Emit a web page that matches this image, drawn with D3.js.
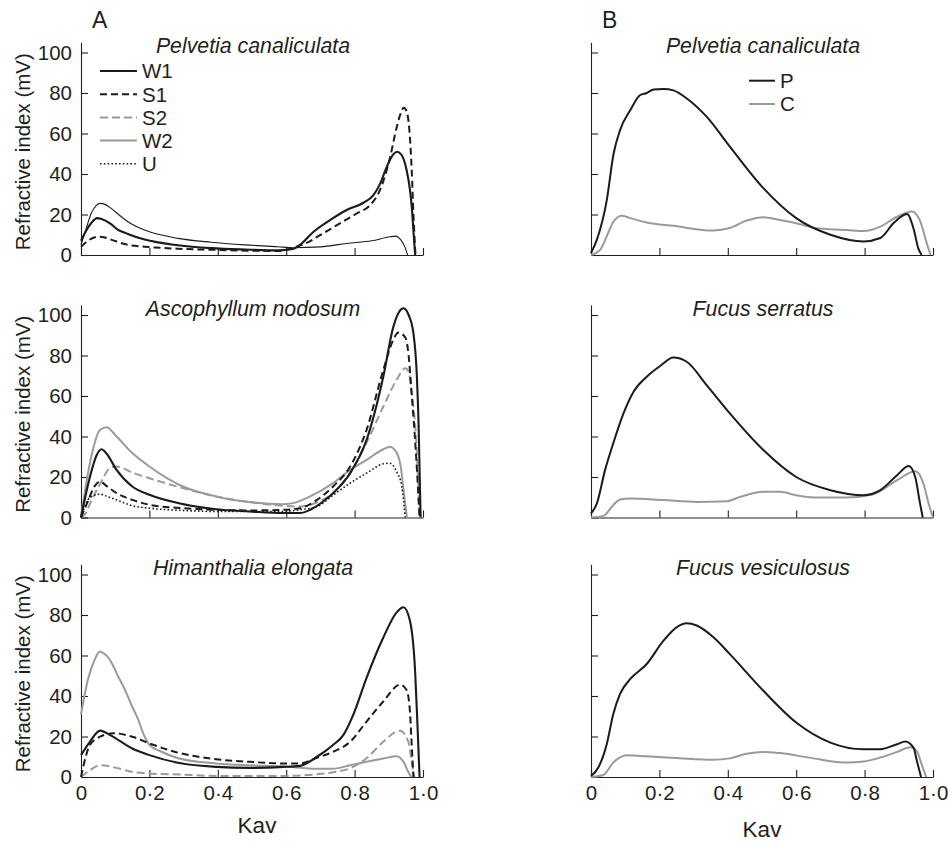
<!DOCTYPE html>
<html>
<head>
<meta charset="utf-8">
<script src="https://cdn.jsdelivr.net/npm/d3@7"></script>
<style>
  html, body { margin: 0; padding: 0; background: #fff; }
  svg { display: block; }
  text { font-family: "Liberation Sans", Arial, Helvetica, sans-serif; fill: #231f20; }
</style>
</head>
<body>
<svg id="chart" width="948" height="841"></svg>
<script>
// ---- Axis ticks and labels ----
const yTicks = [0, 20, 40, 60, 80, 100];
const kavTicks = [0, 0.2, 0.4, 0.6, 0.8, 1.0];
const kavTickLabels = ["0", "0·2", "0·4", "0·6", "0·8", "1·0"];

// ---- A: Pelvetia canaliculata, [Kav, refractive index (mV)] ----
const pelvetiaW1 = [[0,7],[0.015,12],[0.03,15.8],[0.047,18.2],[0.06,17.8],[0.088,15.2],[0.105,12.8],[0.137,10.4],[0.186,7.6],[0.284,4.8],[0.38,3.4],[0.48,2.7],[0.576,2.3],[0.62,3],[0.64,5],[0.68,11.5],[0.728,17.2],[0.777,22.2],[0.826,25.8],[0.855,29.6],[0.874,35],[0.894,43.5],[0.913,49.7],[0.925,51],[0.937,49.5],[0.952,42],[0.962,32],[0.967,24],[0.972,12],[0.977,0]];
const pelvetiaS1 = [[0,4],[0.02,7],[0.05,9],[0.07,8.6],[0.088,7.6],[0.137,5],[0.186,4.1],[0.284,3.1],[0.38,2.6],[0.576,2],[0.62,3.5],[0.66,6],[0.708,10.7],[0.757,15.6],[0.806,20.5],[0.845,24.6],[0.874,32],[0.904,48.4],[0.923,63],[0.935,70],[0.944,72.7],[0.952,71],[0.96,62],[0.967,42],[0.972,20],[0.978,0]];
const pelvetiaW2 = [[0,5],[0.015,13],[0.03,20.6],[0.045,24.5],[0.055,25.5],[0.07,25],[0.088,23],[0.11,20],[0.137,16.4],[0.186,12.3],[0.284,8.2],[0.38,6.3],[0.48,5],[0.576,4.1],[0.62,3.6],[0.7,4],[0.777,5.7],[0.85,7],[0.904,9],[0.92,9.3],[0.935,7.5],[0.947,4],[0.955,0]];

// ---- A: Ascophyllum nodosum ----
const ascoW1 = [[0,0],[0.026,20],[0.045,30.5],[0.06,33.7],[0.075,31.5],[0.104,23.5],[0.15,15.3],[0.2,11.2],[0.298,6.6],[0.395,4.1],[0.493,3],[0.59,2.2],[0.64,2.2],[0.67,3.8],[0.708,7.9],[0.737,12],[0.787,21.9],[0.835,38.3],[0.884,69.6],[0.913,94],[0.93,101.5],[0.943,103.3],[0.958,100],[0.972,91],[0.982,70],[0.987,46.6],[0.993,0]];
const ascoS1 = [[0,0],[0.02,8],[0.04,15.5],[0.056,17.8],[0.075,15.5],[0.104,12],[0.15,8.7],[0.2,6.3],[0.298,4.6],[0.395,3.8],[0.493,3.5],[0.59,3.8],[0.64,4.6],[0.69,8.7],[0.737,15.3],[0.787,25.2],[0.835,43.3],[0.884,72.9],[0.913,87.7],[0.928,91.3],[0.948,89],[0.958,80],[0.966,63],[0.98,30],[0.99,0]];
const ascoS2 = [[0,0],[0.015,2.5],[0.027,7.1],[0.057,17],[0.085,24.4],[0.104,25.2],[0.15,22.2],[0.2,19.4],[0.298,14.5],[0.395,10.4],[0.493,7.6],[0.59,5.8],[0.64,5.4],[0.69,7.5],[0.737,12],[0.787,22],[0.835,37],[0.884,54.8],[0.923,68],[0.948,73.7],[0.958,72],[0.966,63],[0.98,38],[0.99,0]];
const ascoW2 = [[0,0],[0.026,26.8],[0.056,43.3],[0.075,44.6],[0.104,40],[0.15,31.8],[0.2,25.2],[0.298,15.3],[0.395,10.4],[0.493,7.6],[0.59,6.6],[0.62,7.1],[0.67,10.4],[0.737,17],[0.787,23.5],[0.835,28.5],[0.884,33.7],[0.903,35],[0.923,32],[0.935,25],[0.943,13.7],[0.953,0]];
const ascoU = [[0,0],[0.027,10],[0.056,11.5],[0.075,10.5],[0.104,8.7],[0.15,5.8],[0.2,4.6],[0.298,3.5],[0.395,3],[0.59,3],[0.64,3.8],[0.69,5.4],[0.737,11],[0.787,17],[0.835,21.9],[0.884,26.5],[0.903,26.8],[0.923,22.6],[0.938,15.3],[0.948,0]];

// ---- A: Himanthalia elongata ----
const himW1 = [[0,10.8],[0.026,17.4],[0.056,22.9],[0.085,20.7],[0.15,14.1],[0.2,10.8],[0.284,7],[0.395,5],[0.493,4.5],[0.59,5],[0.64,5.5],[0.69,10],[0.737,15.8],[0.767,20.7],[0.796,30.7],[0.835,49],[0.884,68.9],[0.923,81.3],[0.943,83.8],[0.962,77],[0.977,52],[0.984,25],[0.99,0]];
const himS1 = [[0,0],[0.026,15.8],[0.056,19.9],[0.095,21.6],[0.15,19.9],[0.2,16.6],[0.284,12],[0.395,8.8],[0.493,7.5],[0.59,6.7],[0.64,6.7],[0.69,9.5],[0.737,12.4],[0.787,17.4],[0.835,27.4],[0.884,37.3],[0.933,45.6],[0.952,43],[0.962,32],[0.966,19],[0.972,0]];
const himS2 = [[0,0],[0.026,3.3],[0.056,5.8],[0.104,4.5],[0.15,2.5],[0.2,1.7],[0.298,1.2],[0.395,0.5],[0.59,0.5],[0.69,1.3],[0.737,2.3],[0.787,4.3],[0.835,9.3],[0.884,17.4],[0.933,22.9],[0.957,17.4],[0.97,4.3],[0.975,0]];
const himW2 = [[0,30.8],[0.02,48],[0.04,58],[0.055,62],[0.069,60.7],[0.084,58],[0.094,54.9],[0.108,49.9],[0.128,43.3],[0.147,35.8],[0.167,28.4],[0.186,20],[0.2,15.9],[0.234,12.6],[0.284,9.3],[0.395,6.7],[0.493,5.8],[0.59,5.3],[0.69,4.1],[0.737,4.1],[0.787,5.8],[0.835,7.5],[0.884,9.1],[0.923,10.3],[0.943,7.5],[0.957,2.5],[0.966,0]];

// ---- B: P and C fractions ----
const pelvetiaP = [[0,1],[0.017,7.5],[0.046,27],[0.066,50],[0.085,61.7],[0.115,71.6],[0.144,79],[0.163,80],[0.183,81.7],[0.212,82],[0.241,81.3],[0.28,77.3],[0.338,68.3],[0.406,53.5],[0.504,33],[0.6,18.2],[0.7,10],[0.797,6.7],[0.846,8.4],[0.885,15.8],[0.924,20.2],[0.943,13.1],[0.957,3.3],[0.967,0]];
const pelvetiaC = [[0,0],[0.026,2.4],[0.05,10.8],[0.065,16.3],[0.09,19.4],[0.115,18.2],[0.163,16.1],[0.241,14.4],[0.358,12.1],[0.406,13.3],[0.455,17],[0.504,18.7],[0.553,17.3],[0.6,15.7],[0.65,13.5],[0.7,12.7],[0.748,12.3],[0.797,11.8],[0.846,14],[0.895,18.9],[0.938,21.5],[0.962,17],[0.982,5.7],[0.993,0]];
const serratusP = [[0,2],[0.017,6.9],[0.041,23.4],[0.065,36.6],[0.095,51.4],[0.124,62],[0.163,69.5],[0.202,74.8],[0.241,79],[0.28,76.9],[0.338,65.4],[0.406,51.4],[0.504,33.3],[0.6,20],[0.7,13.5],[0.797,11],[0.846,13.5],[0.895,20.9],[0.929,25.4],[0.948,20],[0.962,7],[0.97,0]];
const serratusC = [[0,0],[0.036,0.8],[0.065,6.1],[0.085,8.9],[0.115,9.4],[0.212,8.6],[0.309,7.7],[0.397,8],[0.436,10.2],[0.504,12.7],[0.553,12.7],[0.6,11],[0.65,9.9],[0.748,9.9],[0.826,11.5],[0.895,18.4],[0.948,22.9],[0.972,16.8],[0.987,7],[1.0,0]];
const vesiculosusP = [[0,0.5],[0.021,4.6],[0.046,16.2],[0.065,31],[0.085,41],[0.115,48.4],[0.163,55.8],[0.212,67.3],[0.251,74],[0.28,75.9],[0.309,74.8],[0.358,69],[0.406,60.7],[0.504,42.6],[0.6,26.9],[0.7,17],[0.797,13.7],[0.846,13.7],[0.895,16.2],[0.919,17.5],[0.943,14.5],[0.953,7.9],[0.965,0]];
const vesiculosusC = [[0,0],[0.036,1],[0.065,7.1],[0.105,10.7],[0.163,10.2],[0.26,9.2],[0.358,8.5],[0.406,9.2],[0.455,11.5],[0.504,12.4],[0.553,11.8],[0.65,9.2],[0.748,7.1],[0.797,7.6],[0.846,9.6],[0.895,12.4],[0.934,14.7],[0.953,12.7],[0.967,6.1],[0.98,0]];

// ---- Line styles ----
const DARK = "#1c1a1b", GREY = "#9a9a9a";
const styles = {
  W1:  { stroke: DARK, width: 2.1, dash: null },
  S1:  { stroke: DARK, width: 2.0, dash: "7,4" },
  S2:  { stroke: GREY, width: 2.0, dash: "8,4" },
  W2:  { stroke: GREY, width: 2.0, dash: null },
  W2t: { stroke: DARK, width: 1.1, dash: null },
  U:   { stroke: DARK, width: 1.6, dash: "1.6,2.2" },
  P:   { stroke: DARK, width: 2.0, dash: null },
  C:   { stroke: GREY, width: 2.0, dash: null }
};

const panels = [
  { col: 0, row: 0, title: "Pelvetia canaliculata", letter: "A",
    series: [["W2t", pelvetiaW2], ["S1", pelvetiaS1], ["W1", pelvetiaW1]],
    legend: ["W1", "S1", "S2", "W2", "U"] },
  { col: 0, row: 1, title: "Ascophyllum nodosum",
    series: [["W2", ascoW2], ["S2", ascoS2], ["U", ascoU], ["S1", ascoS1], ["W1", ascoW1]] },
  { col: 0, row: 2, title: "Himanthalia elongata", xLabels: true,
    series: [["W2", himW2], ["S2", himS2], ["S1", himS1], ["W1", himW1]] },
  { col: 1, row: 0, title: "Pelvetia canaliculata", letter: "B",
    series: [["C", pelvetiaC], ["P", pelvetiaP]], legend: ["P", "C"] },
  { col: 1, row: 1, title: "Fucus serratus",
    series: [["C", serratusC], ["P", serratusP]] },
  { col: 1, row: 2, title: "Fucus vesiculosus", xLabels: true,
    series: [["C", vesiculosusC], ["P", vesiculosusP]] }
];

// ---- Layout ----
const colLeft = [81, 591];
const plotW = 342;
const rowZero = [255, 517.5, 777];   // pixel row of value 0 per row
const unitPx = 2.025;                // pixels per mV
const yMax = 105;

const svg = d3.select("#chart");

panels.forEach(p => {
  const x0 = colLeft[p.col];
  const yBase = rowZero[p.row];
  const x = d3.scaleLinear().domain([0, 1]).range([x0, x0 + plotW]);
  const y = d3.scaleLinear().domain([0, yMax]).range([yBase, yBase - yMax * unitPx]);
  const g = svg.append("g");

  // y axis, inward ticks
  const yAxis = d3.axisLeft(y).tickValues(yTicks).tickSize(-7).tickSizeOuter(0).tickPadding(9)
    .tickFormat(p.col === 0 ? d3.format("d") : () => "");
  const ya = g.append("g").attr("transform", `translate(${x0},0)`).call(yAxis);
  ya.selectAll("text").style("font-size", "20.5px").attr("fill", "#231f20");

  // x axis, inward ticks
  const xAxis = d3.axisBottom(x).tickValues(kavTicks).tickSize(-7).tickSizeOuter(0).tickPadding(0)
    .tickFormat((d, i) => p.xLabels ? kavTickLabels[i] : "");
  const xa = g.append("g").attr("transform", `translate(0,${yBase})`).call(xAxis);
  xa.selectAll("text").style("font-size", "20.5px").attr("fill", "#231f20")
    .attr("y", 23).attr("dy", "0");

  g.selectAll(".domain, .tick line").attr("stroke", "#231f20").attr("stroke-width", 1.1);

  // curves
  const line = d3.line().x(d => x(d[0])).y(d => y(d[1])).curve(d3.curveMonotoneX);
  p.series.forEach(([key, data]) => {
    const s = styles[key];
    g.append("path").datum(data)
      .attr("d", line)
      .attr("fill", "none")
      .attr("stroke", s.stroke)
      .attr("stroke-width", s.width)
      .attr("stroke-dasharray", s.dash)
      .attr("stroke-linejoin", "round");
  });

  // title
  g.append("text")
    .attr("x", x0 + plotW / 2 + 1)
    .attr("y", y(100) + 0.5)
    .attr("text-anchor", "middle")
    .style("font-size", "21.3px")
    .style("font-style", "italic")
    .text(p.title);

  // panel letter
  if (p.letter) {
    g.append("text")
      .attr("x", p.col === 0 ? 92 : 602)
      .attr("y", 28)
      .style("font-size", "23px")
      .text(p.letter);
  }

  // y axis title
  if (p.col === 0) {
    g.append("text")
      .attr("transform", `translate(30,${y(51)}) rotate(-90)`)
      .attr("text-anchor", "middle")
      .style("font-size", "20.5px")
      .text("Refractive index (mV)");
  }

  // x axis title
  if (p.xLabels) {
    g.append("text")
      .attr("x", x0 + plotW / 2 + (p.col === 0 ? 5 : 0))
      .attr("y", p.col === 0 ? 833 : 837)
      .attr("text-anchor", "middle")
      .style("font-size", "22.5px")
      .text("Kav");
  }

  // legend
  if (p.legend) {
    const lx = p.col === 0 ? 100 : 749;
    const lw = p.col === 0 ? 37 : 26;
    const ly = p.col === 0 ? 71 : 80.7;
    const step = p.col === 0 ? 23.2 : 23.3;
    p.legend.forEach((key, i) => {
      const s = styles[key];
      const yy = ly + i * step;
      g.append("line")
        .attr("x1", lx).attr("x2", lx + lw)
        .attr("y1", yy).attr("y2", yy)
        .attr("stroke", s.stroke)
        .attr("stroke-width", s.width)
        .attr("stroke-dasharray", s.dash);
      g.append("text")
        .attr("x", lx + lw + 5)
        .attr("y", yy)
        .attr("dy", "0.36em")
        .style("font-size", "20.5px")
        .text(key);
    });
  }
});
</script>
</body>
</html>
